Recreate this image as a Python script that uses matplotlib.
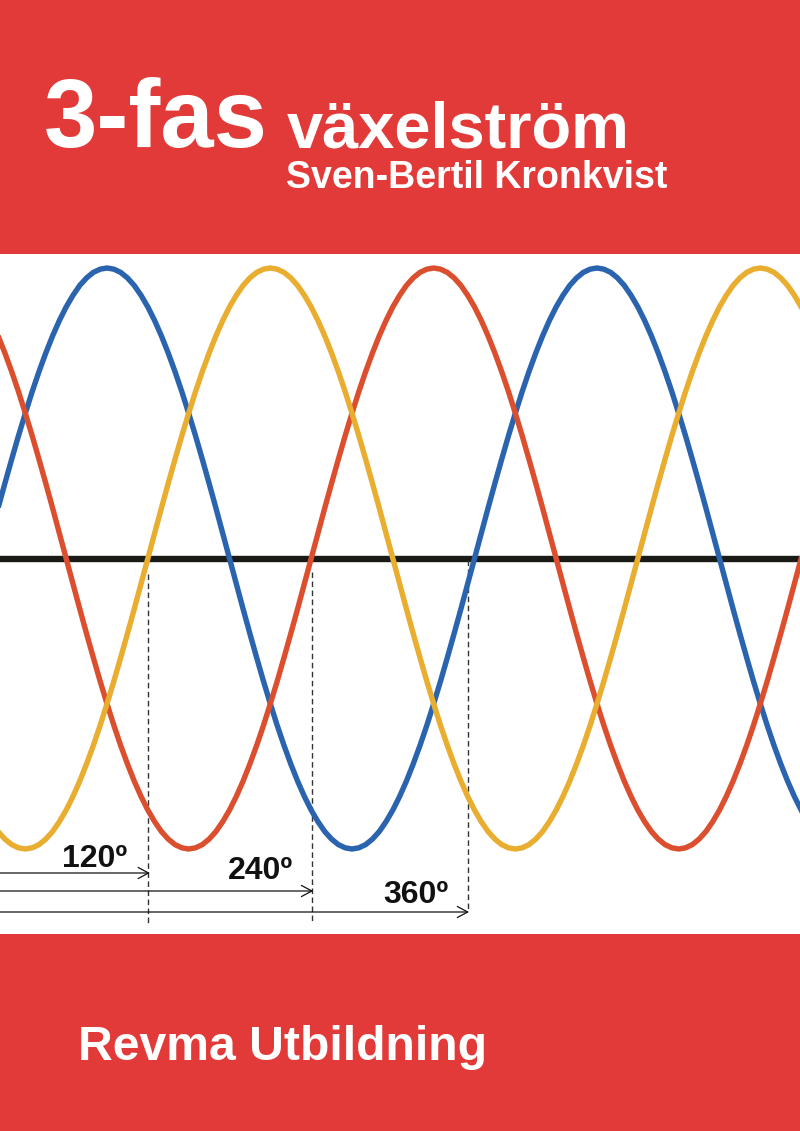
"""3-fas växelström book cover: three phase curves with 120/240/360 degree markers."""

import matplotlib
matplotlib.use("Agg")
import matplotlib.pyplot as plt

# phase angle every 5 degrees, amplitude (peak = 1)
angle_deg = list(range(0, 605, 5))

blue_phase = [
    0, .087, .174, .259, .342, .423, .5, .574, .643, .707, .766, .819, .866, .906, .94, .966, .985, .996,
    1, .996, .985, .966, .94, .906, .866, .819, .766, .707, .643, .574, .5, .423, .342, .259, .174, .087,
    0, -.087, -.174, -.259, -.342, -.423, -.5, -.574, -.643, -.707, -.766, -.819, -.866, -.906, -.94, -.966, -.985, -.996,
    -1, -.996, -.985, -.966, -.94, -.906, -.866, -.819, -.766, -.707, -.643, -.574, -.5, -.423, -.342, -.259, -.174, -.087,
    0, .087, .174, .259, .342, .423, .5, .574, .643, .707, .766, .819, .866, .906, .94, .966, .985, .996,
    1, .996, .985, .966, .94, .906, .866, .819, .766, .707, .643, .574, .5, .423, .342, .259, .174, .087,
    0, -.087, -.174, -.259, -.342, -.423, -.5, -.574, -.643, -.707, -.766, -.819, -.866,
]
yellow_phase = [
    -.866, -.906, -.94, -.966, -.985, -.996,
    -1, -.996, -.985, -.966, -.94, -.906, -.866, -.819, -.766, -.707, -.643, -.574, -.5, -.423, -.342, -.259, -.174, -.087,
    0, .087, .174, .259, .342, .423, .5, .574, .643, .707, .766, .819, .866, .906, .94, .966, .985, .996,
    1, .996, .985, .966, .94, .906, .866, .819, .766, .707, .643, .574, .5, .423, .342, .259, .174, .087,
    0, -.087, -.174, -.259, -.342, -.423, -.5, -.574, -.643, -.707, -.766, -.819, -.866, -.906, -.94, -.966, -.985, -.996,
    -1, -.996, -.985, -.966, -.94, -.906, -.866, -.819, -.766, -.707, -.643, -.574, -.5, -.423, -.342, -.259, -.174, -.087,
    0, .087, .174, .259, .342, .423, .5, .574, .643, .707, .766, .819, .866, .906, .94, .966, .985, .996,
    1, .996, .985, .966, .94, .906, .866,
]
red_phase = [
    .866, .819, .766, .707, .643, .574, .5, .423, .342, .259, .174, .087,
    0, -.087, -.174, -.259, -.342, -.423, -.5, -.574, -.643, -.707, -.766, -.819, -.866, -.906, -.94, -.966, -.985, -.996,
    -1, -.996, -.985, -.966, -.94, -.906, -.866, -.819, -.766, -.707, -.643, -.574, -.5, -.423, -.342, -.259, -.174, -.087,
    0, .087, .174, .259, .342, .423, .5, .574, .643, .707, .766, .819, .866, .906, .94, .966, .985, .996,
    1, .996, .985, .966, .94, .906, .866, .819, .766, .707, .643, .574, .5, .423, .342, .259, .174, .087,
    0, -.087, -.174, -.259, -.342, -.423, -.5, -.574, -.643, -.707, -.766, -.819, -.866, -.906, -.94, -.966, -.985, -.996,
    -1, -.996, -.985, -.966, -.94, -.906, -.866, -.819, -.766, -.707, -.643, -.574, -.5, -.423, -.342, -.259, -.174, -.087,
    0,
]

marker_labels = ["120º", "240º", "360º"]
marker_ends_deg = [120, 240.5, 355.5]
arrow_tips_deg = [121.5, 241.5, 356]

RED_BAND = "#e23a38"
W, H = 800, 1131
PX_PER_DEG = 490 / 360
X0_PX = -15.5     # pixel column of 0 degrees
Y0_PX = 558.5     # pixel row of the zero line
AMP_PX = 290.5


def ydata(py):
    return (Y0_PX - py) / AMP_PX


def xdata(px):
    return (px - X0_PX) / PX_PER_DEG


fig = plt.figure(figsize=(W / 100, H / 100), dpi=100, facecolor="white")
ax = fig.add_axes([0, 0, 1, 1])
ax.set_xlim(xdata(0), xdata(W))
ax.set_ylim(ydata(H), ydata(0))
ax.axis("off")

# red bands top and bottom
ax.axhspan(ydata(254), ydata(0), color=RED_BAND, lw=0, zorder=5)
ax.axhspan(ydata(H), ydata(934), color=RED_BAND, lw=0, zorder=5)

# zero line
ax.axhline(0, color="#1a1a16", lw=4.6, zorder=1)

ax.plot(angle_deg, blue_phase, color="#2a64ae", lw=3.9, zorder=2, solid_joinstyle="round")
ax.plot(angle_deg, red_phase, color="#db4f2f", lw=3.9, zorder=3, solid_joinstyle="round")
ax.plot(angle_deg, yellow_phase, color="#e9ad2f", lw=3.9, zorder=4, solid_joinstyle="round")

# dashed drop lines, arrows and degree labels
drop_tops = [574, 572, 560]
drop_bottoms = [923, 923, 912]
arrow_rows = [873, 891, 912]
label_pos = [(62, 867), (228, 879), (383, 903)]
for label, end, tip, top, bottom, row, (lx, ly) in zip(marker_labels, marker_ends_deg, arrow_tips_deg,
                                                       drop_tops, drop_bottoms, arrow_rows, label_pos):
    ax.plot([end, end], [ydata(top), ydata(bottom)], color="#333333", lw=1.0,
            dashes=(4, 2.5), zorder=1.5)
    ax.annotate("", xy=(tip, ydata(row)), xytext=(xdata(-20), ydata(row)),
                arrowprops=dict(arrowstyle="->,head_length=0.75,head_width=0.4", color="#111111",
                                lw=0.9, shrinkA=0, shrinkB=0), zorder=2)
    ax.text(xdata(lx), ydata(ly), label, fontsize=23, fontweight="bold", color="#111111",
            family="Liberation Sans", ha="left", va="baseline", zorder=2)

# cover text
ax.text(xdata(44), ydata(147), "3-fas", fontsize=69, fontweight="bold", color="white",
        family="Liberation Sans", ha="left", va="baseline", zorder=6)
ax.text(xdata(287), ydata(147), "växelström", fontsize=46.8, fontweight="bold", color="white",
        family="Liberation Sans", ha="left", va="baseline", zorder=6)
ax.text(xdata(286), ydata(188), "Sven-Bertil Kronkvist", fontsize=27, fontweight="bold", color="white",
        family="Liberation Sans", ha="left", va="baseline", zorder=6)
ax.text(xdata(78), ydata(1059.5), "Revma Utbildning", fontsize=34.7, fontweight="bold", color="white",
        family="Liberation Sans", ha="left", va="baseline", zorder=6)

fig.savefig("out.png", dpi=100)
plt.close(fig)
